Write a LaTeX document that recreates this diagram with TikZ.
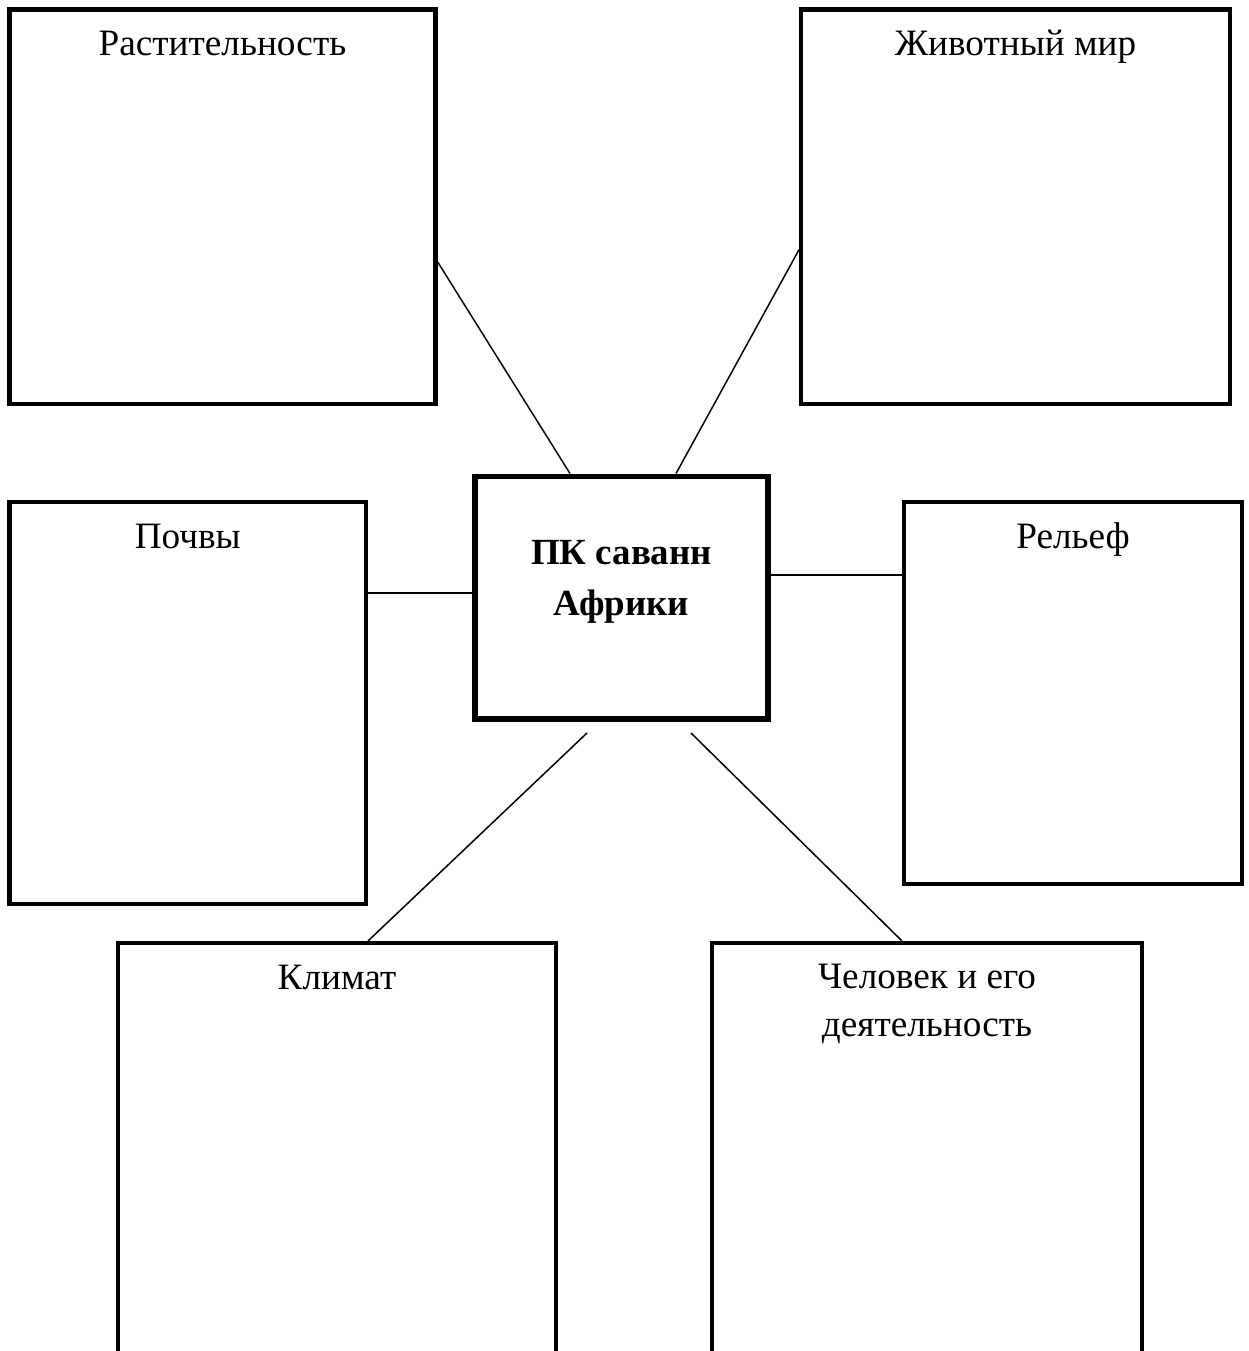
\documentclass[tikz,border=0pt]{standalone}
\usepackage{fontspec}
\setmainfont{Liberation Serif}
\usetikzlibrary{positioning, calc}

\begin{document}
\begin{tikzpicture}[x=0.02cm,y=-0.02cm,
  box/.style={draw,rectangle,line width=2.3pt,inner sep=0pt},
  hub/.style={draw,rectangle,line width=3.4pt,inner sep=0pt},
  title/.style={anchor=base,inner sep=0pt,align=center,font=\fontsize{21.2pt}{27.3pt}\selectfont},
  link/.style={line width=0.85pt}]
\clip (0,0) rectangle (1248,1351);
% Centre
\node[hub,minimum width=293*0.02cm,minimum height=242.5*0.02cm] (cen) at (621.5,597.75) {};
\node[title,font=\fontsize{21pt}{29pt}\selectfont\bfseries] (centxt) at ($(cen.north)+(0,142)$) {ПК саванн\\Африки};
% Outer boxes
\node[box,minimum width=426*0.02cm,minimum height=394.5*0.02cm] (veg) at (222.5,206.75) {};
\node[box,minimum width=429*0.02cm,minimum height=394.5*0.02cm] (fauna) at (1015.5,206.75) {};
\node[box,minimum width=356.5*0.02cm,minimum height=402*0.02cm] (soil) at (187.75,703) {};
\node[box,minimum width=338*0.02cm,minimum height=382*0.02cm] (relief) at (1073,693) {};
\node[box,minimum width=438*0.02cm,minimum height=457*0.02cm] (clim) at (337,1171.5) {};
\node[box,minimum width=430*0.02cm,minimum height=457*0.02cm] (human) at (927,1171.5) {};
% Titles
\node[title] (vegtxt) at ($(veg.north)+(0,48.5)$) {Растительность};
\node[title] (faunatxt) at ($(fauna.north)+(0,48.5)$) {Животный мир};
\node[title] (soiltxt) at ($(soil.north)+(0,48.5)$) {Почвы};
\node[title] (relieftxt) at ($(relief.north)+(0,48.5)$) {Рельеф};
\node[title] (climtxt) at ($(clim.north)+(0,48.5)$) {Климат};
\node[title] (humantxt) at ($(human.north)+(0,95.5)$) {Человек и его\\деятельность};
% Links
\draw[link] ($(veg.east)+(0,55)$) -- ($(cen.north)+(-51.5,0)$);
\draw[link] ($(fauna.west)+(0,43)$) -- ($(cen.north)+(54.5,0)$);
\draw[link] ($(cen.west)+(0,-4.75)$) -- ($(soil.east)+(0,-110)$);
\draw[link] ($(cen.east)+(0,-22.75)$) -- ($(relief.west)+(0,-118)$);
\draw[link] ($(cen.south)+(-34.5,11)$) -- ($(clim.north)+(31,0)$);
\draw[link] ($(cen.south)+(69.5,11)$) -- ($(human.north)+(-25,0)$);
\end{tikzpicture}
\end{document}
